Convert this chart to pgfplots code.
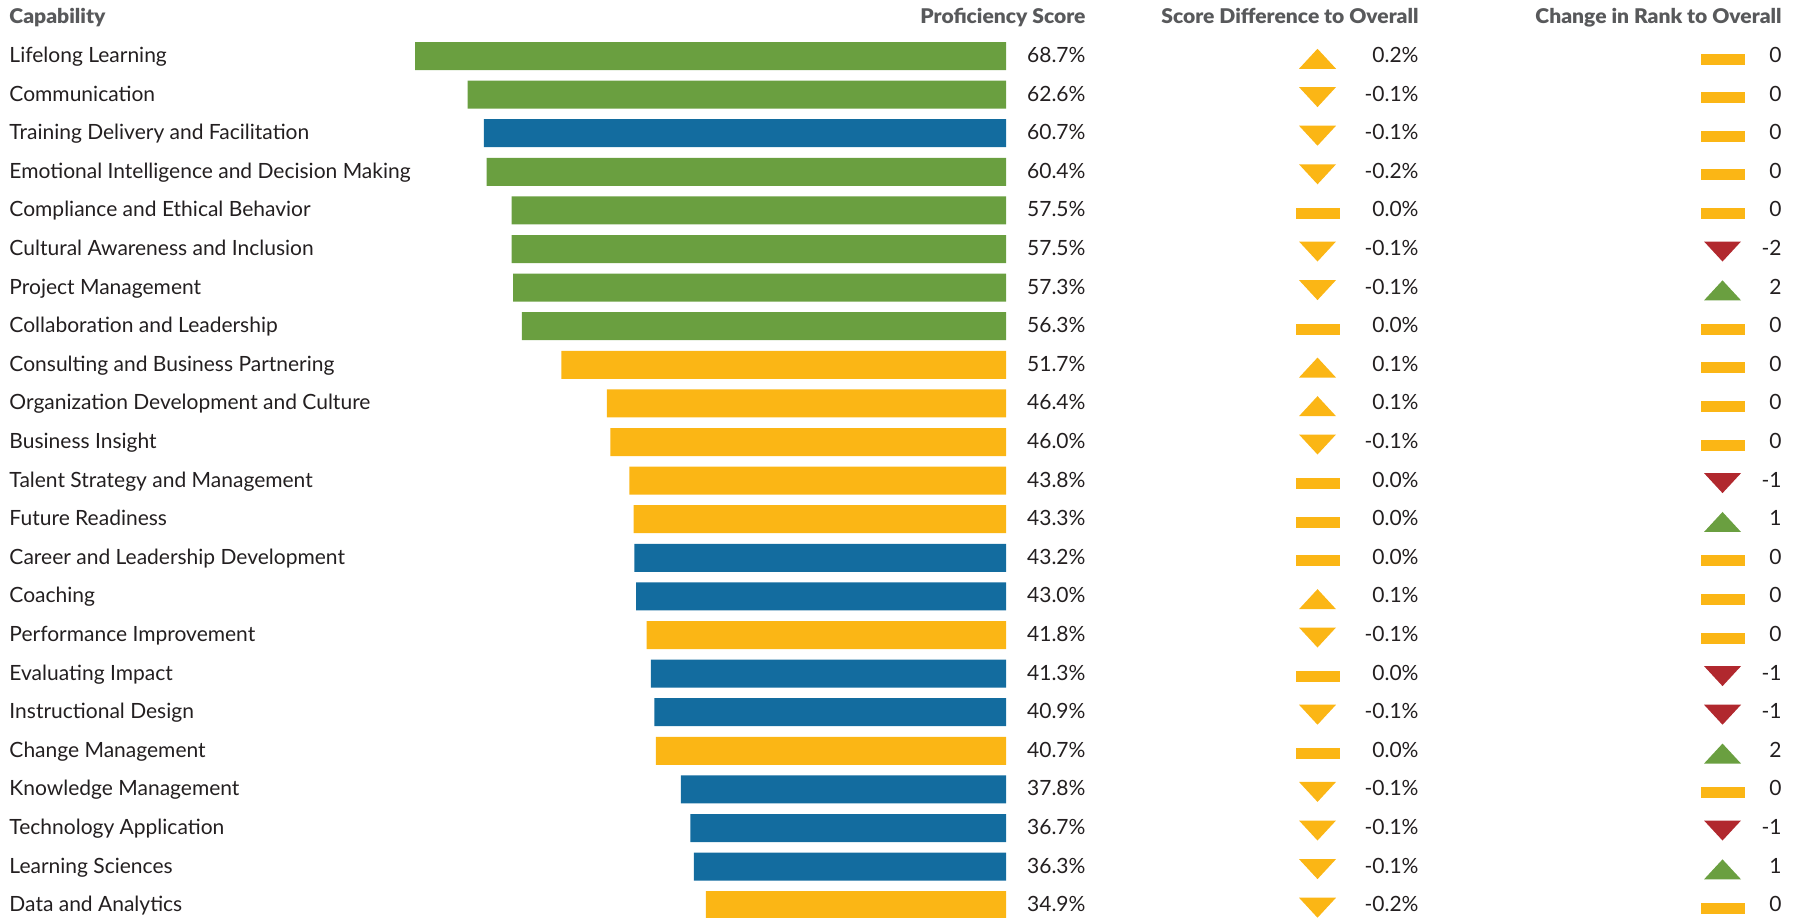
\documentclass[border=0pt]{standalone}
\usepackage{pgfplots}
\pgfplotsset{compat=1.18}
\usepackage{fontspec}
\setmainfont{Lato}
\newfontfamily\hdfam{Lato Black}
\definecolor{cgreen}{HTML}{6A9F40}
\definecolor{cblue}{HTML}{136C9F}
\definecolor{cyellow}{HTML}{FBB615}
\definecolor{cred}{HTML}{B1282E}
\definecolor{ctext}{HTML}{231F20}
\definecolor{chead}{HTML}{58595B}
\newcommand{\bodyfont}{\fontsize{8.4pt}{9pt}\selectfont}
\newcommand{\headfont}{\hdfam\fontsize{8.1pt}{9pt}\selectfont}
\newcommand{\hd}[1]{\scalebox{1.04}[1]{#1}}
\pgfdeclareplotmark{tup}{%
  \pgfpathmoveto{\pgfqpoint{-7.4pt}{-5.1pt}}%
  \pgfpathlineto{\pgfqpoint{7.4pt}{-5.1pt}}%
  \pgfpathlineto{\pgfqpoint{0pt}{2.9pt}}%
  \pgfpathclose\pgfusepathqfill}
\pgfdeclareplotmark{tdown}{%
  \pgfpathmoveto{\pgfqpoint{-7.4pt}{3pt}}%
  \pgfpathlineto{\pgfqpoint{7.4pt}{3pt}}%
  \pgfpathlineto{\pgfqpoint{0pt}{-5pt}}%
  \pgfpathclose\pgfusepathqfill}
\pgfdeclareplotmark{tdash}{%
  \pgfpathrectangle{\pgfqpoint{-8.8pt}{-3.4pt}}{\pgfqpoint{17.6pt}{4.4pt}}%
  \pgfusepathqfill}
\pgfplotsset{
  rowaxis/.style={
    scale only axis, hide axis, clip=false,
    height=355.12pt,
    ymin=-0.5, ymax=22.5, y dir=reverse,
    ytick=\empty, xtick=\empty,
  },
  lbl/.style={only marks, mark=none, point meta=explicit symbolic, nodes near coords,
    every node near coord/.append style={font=\bodyfont, text=ctext, inner sep=0pt, yshift=-2.6pt, #1}},
}
\begin{document}
\begin{tikzpicture}
\useasboundingbox (0,0) rectangle (721.6pt,-366.8pt);
% ---------- main bars ----------
\begin{axis}[rowaxis, width=240.8pt, xmin=0, xmax=70, x dir=reverse,
  at={(402.4pt,-14.68pt)}, anchor=north east]
\addplot[xbar, bar width=11.2pt, bar shift=0pt, fill=cgreen, draw=none] coordinates {
 (68.7,0) (62.6,1) (60.4,3) (57.5,4) (57.5,5) (57.3,6) (56.3,7)};
\addplot[xbar, bar width=11.2pt, bar shift=0pt, fill=cblue, draw=none] coordinates {
 (60.7,2) (43.2,13) (43.0,14) (41.3,16) (40.9,17) (37.8,19) (36.7,20) (36.3,21)};
\addplot[xbar, bar width=11.2pt, bar shift=0pt, fill=cyellow, draw=none] coordinates {
 (51.7,8) (46.4,9) (46.0,10) (43.8,11) (43.3,12) (41.8,15) (40.7,18) (34.9,22)};
% names
\addplot[lbl={anchor=base west, xshift=-398.8pt}] coordinates {
 (0,0) [Lifelong Learning]
 (0,1) [Communication]
 (0,2) [Training Delivery and Facilitation]
 (0,3) [Emotional Intelligence and Decision Making]
 (0,4) [Compliance and Ethical Behavior]
 (0,5) [Cultural Awareness and Inclusion]
 (0,6) [Project Management]
 (0,7) [Collaboration and Leadership]
 (0,8) [Consulting and Business Partnering]
 (0,9) [Organization Development and Culture]
 (0,10) [Business Insight]
 (0,11) [Talent Strategy and Management]
 (0,12) [Future Readiness]
 (0,13) [Career and Leadership Development]
 (0,14) [Coaching]
 (0,15) [Performance Improvement]
 (0,16) [Evaluating Impact]
 (0,17) [Instructional Design]
 (0,18) [Change Management]
 (0,19) [Knowledge Management]
 (0,20) [Technology Application]
 (0,21) [Learning Sciences]
 (0,22) [Data and Analytics]};
% values
\addplot[lbl={anchor=base east, xshift=32pt}] coordinates {
 (0,0) [68.7\%] (0,1) [62.6\%] (0,2) [60.7\%] (0,3) [60.4\%] (0,4) [57.5\%]
 (0,5) [57.5\%] (0,6) [57.3\%] (0,7) [56.3\%] (0,8) [51.7\%] (0,9) [46.4\%]
 (0,10) [46.0\%] (0,11) [43.8\%] (0,12) [43.3\%] (0,13) [43.2\%] (0,14) [43.0\%]
 (0,15) [41.8\%] (0,16) [41.3\%] (0,17) [40.9\%] (0,18) [40.7\%] (0,19) [37.8\%]
 (0,20) [36.7\%] (0,21) [36.3\%] (0,22) [34.9\%]};
\node[anchor=base west, inner sep=0pt, font=\headfont, text=chead, xshift=-398.8pt] at (axis cs:0,-0.842) {\hd{Capability}};
\node[anchor=base east, inner sep=0pt, font=\headfont, text=chead, xshift=32pt] at (axis cs:0,-0.842) {\hd{Proficiency Score}};
\end{axis}
% ---------- score difference ----------
\begin{axis}[rowaxis, width=20pt, xmin=-1, xmax=1,
  at={(527pt,-14.68pt)}, anchor=north]
\addplot[only marks, mark=tup, color=cyellow] coordinates {(0,0) (0,8) (0,9) (0,14)};
\addplot[only marks, mark=tdown, color=cyellow] coordinates {
 (0,1) (0,2) (0,3) (0,5) (0,6) (0,10) (0,15) (0,17) (0,19) (0,20) (0,21) (0,22)};
\addplot[only marks, mark=tdash, color=cyellow] coordinates {
 (0,4) (0,7) (0,11) (0,12) (0,13) (0,16) (0,18)};
\addplot[lbl={anchor=base east, xshift=40.6pt}] coordinates {
 (0,0) [0.2\%] (0,1) [-0.1\%] (0,2) [-0.1\%] (0,3) [-0.2\%] (0,4) [0.0\%]
 (0,5) [-0.1\%] (0,6) [-0.1\%] (0,7) [0.0\%] (0,8) [0.1\%] (0,9) [0.1\%]
 (0,10) [-0.1\%] (0,11) [0.0\%] (0,12) [0.0\%] (0,13) [0.0\%] (0,14) [0.1\%]
 (0,15) [-0.1\%] (0,16) [0.0\%] (0,17) [-0.1\%] (0,18) [0.0\%] (0,19) [-0.1\%]
 (0,20) [-0.1\%] (0,21) [-0.1\%] (0,22) [-0.2\%]};
\node[anchor=base east, inner sep=0pt, font=\headfont, text=chead, xshift=40.6pt] at (axis cs:0,-0.842) {\hd{Score Difference to Overall}};
\end{axis}
% ---------- rank change ----------
\begin{axis}[rowaxis, width=20pt, xmin=-1, xmax=1,
  at={(689pt,-14.68pt)}, anchor=north]
\addplot[only marks, mark=tdash, color=cyellow] coordinates {
 (0,0) (0,1) (0,2) (0,3) (0,4) (0,7) (0,8) (0,9) (0,10) (0,13) (0,14) (0,15) (0,19) (0,22)};
\addplot[only marks, mark=tdown, color=cred] coordinates {(0,5) (0,11) (0,16) (0,17) (0,20)};
\addplot[only marks, mark=tup, color=cgreen] coordinates {(0,6) (0,12) (0,18) (0,21)};
\addplot[lbl={anchor=base east, xshift=23.8pt}] coordinates {
 (0,0) [0] (0,1) [0] (0,2) [0] (0,3) [0] (0,4) [0]
 (0,5) [-2] (0,6) [2] (0,7) [0] (0,8) [0] (0,9) [0]
 (0,10) [0] (0,11) [-1] (0,12) [1] (0,13) [0] (0,14) [0]
 (0,15) [0] (0,16) [-1] (0,17) [-1] (0,18) [2] (0,19) [0]
 (0,20) [-1] (0,21) [1] (0,22) [0]};
\node[anchor=base east, inner sep=0pt, font=\headfont, text=chead, xshift=23.8pt] at (axis cs:0,-0.842) {\hd{Change in Rank to Overall}};
\end{axis}
\end{tikzpicture}
\end{document}
